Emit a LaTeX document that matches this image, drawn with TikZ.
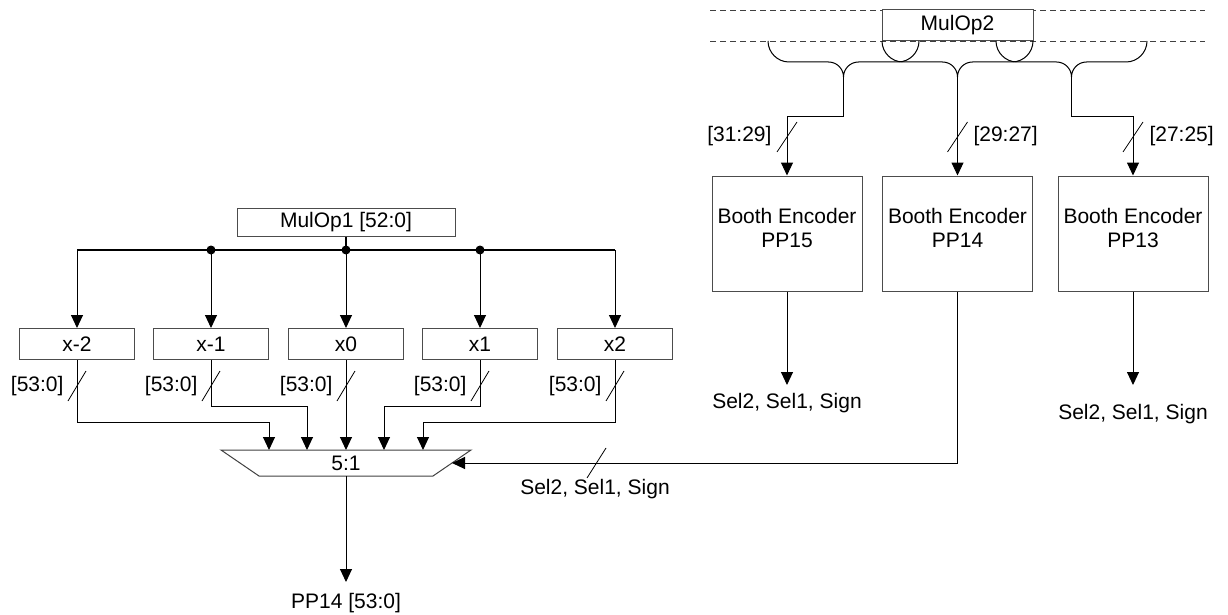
\documentclass[tikz,border=0pt]{standalone}
\usepackage{fontspec}
\setmainfont{Liberation Sans}
\usetikzlibrary{arrows.meta,calc}
\newcommand\mybrace[3]{% left x, tip x, right x
  \draw (#1,41) .. controls (#1,52.5) and ({#1+9.5},62) .. ({#1+21},62)
     -- ({#2-15},62) .. controls ({#2-6.7},62) and (#2,68.7) .. (#2,77)
     .. controls (#2,68.7) and ({#2+6.7},62) .. ({#2+15},62)
     -- ({#3-21},62) .. controls ({#3-9.5},62) and (#3,52.5) .. (#3,41);}
\begin{document}
\begin{tikzpicture}[x=1pt,y=-1pt,
  font=\fontsize{21}{24.5}\selectfont,
  line width=1pt,
  box/.style={draw=black!70,fill=white,line width=1pt,inner sep=0pt,align=center},
  arr/.style={-{Triangle[length=13pt,width=12pt]}},
  lbl/.style={inner sep=0pt,align=center},
  dashln/.style={draw=black!75,dash pattern=on 6pt off 4pt,line width=0.9pt},
  dot/.style={circle,fill=black,inner sep=0pt,minimum size=9pt}
]
\useasboundingbox (0,0) rectangle (1228,615);

% ---------- left part ----------
\node[box,minimum width=218pt,minimum height=28pt] (mulop1) at (346,222) {MulOp1 [52:0]};
\coordinate (b1) at (77,250);
\coordinate (b5) at (615,250);
\node[dot] (b2) at (211,250) {};
\node[dot] (b3) at (346,250) {};
\node[dot] (b4) at (480,250) {};
\draw[line width=1.3pt] (mulop1.south) -- (b3.center);
\draw[line width=1.2pt] (b1) -- (b5);

\foreach \n/\x/\t in {xm2/77/x-2, xm1/211/x-1, xz/346/x0, xp1/480/x1, xp2/615/x2}{
  \node[box,minimum width=115pt,minimum height=31pt] (\n) at (\x,344) {\t};
  \node[lbl,anchor=east] (l\n) at (\x-13,386) {[53:0]};
  \draw[line width=0.8pt] (\x-9,401) -- (\x+9,371);
}
\draw[arr] (b1) -- (xm2);
\draw[arr] (b2.center) -- (xm1);
\draw[arr] (b3.center) -- (xz);
\draw[arr] (b4.center) -- (xp1);
\draw[arr] (b5) -- (xp2);

% mux
\draw[draw=black!75] (221,450) -- (471,450) -- (433,476) -- (259,476) -- cycle;
\node[lbl] (mux) at (346,463) {5:1};
\coordinate (in1) at (269,450);
\coordinate (in2) at (307,450);
\coordinate (in3) at (346,450);
\coordinate (in4) at (384,450);
\coordinate (in5) at (423,450);
\coordinate (sel) at (452,463);
\coordinate (muxout) at (346,476);

\draw[arr] (xm2.south) |- (269,422) -- (in1);
\draw[arr] (xm1.south) |- (307,406) -- (in2);
\draw[arr] (xz.south) -- (in3);
\draw[arr] (xp1.south) |- (384,406) -- (in4);
\draw[arr] (xp2.south) |- (423,422) -- (in5);

\coordinate (pout) at (346,582);
\draw[arr] (muxout) -- (pout);
\node[lbl] (pp14out) at (346,603) {PP14 [53:0]};

% ---------- right part ----------
\draw[dashln] (710,10) -- (1205,10);
\draw[dashln] (710,41) -- (1205,41);
\node[box,minimum width=151pt,minimum height=31pt] (mulop2) at (957.5,25.5) {MulOp2};

% braces
\mybrace{768}{843.5}{919}
\mybrace{882}{957.5}{1033}
\mybrace{996}{1071.5}{1147}
\coordinate (t1) at (843.5,77);
\coordinate (t2) at (957.5,77);
\coordinate (t3) at (1071.5,77);

\node[box,minimum width=150pt,minimum height=115pt] (pp15) at (787,233.5) {};
\node[box,minimum width=150pt,minimum height=115pt] (pp14) at (957.5,233.5) {};
\node[box,minimum width=150pt,minimum height=115pt] (pp13) at (1133,233.5) {};
\node[lbl] (pp15t) at (787,228) {Booth Encoder\\PP15};
\node[lbl] (pp14t) at (957.5,228) {Booth Encoder\\PP14};
\node[lbl] (pp13t) at (1133,228) {Booth Encoder\\PP13};

\draw[arr] (t1) |- (787,117) -- (pp15.north);
\draw[arr] (t2) -- (pp14.north);
\draw[arr] (t3) |- (1133,117) -- (pp13.north);

\draw[line width=0.8pt] (777,152) -- (797,122);
\node[lbl,anchor=east] (r15) at (772,136) {[31:29]};
\draw[line width=0.8pt] (947.5,152) -- (967.5,122);
\node[lbl,anchor=west] (r14) at (973,136) {[29:27]};
\draw[line width=0.8pt] (1123,152) -- (1143,122);
\node[lbl,anchor=west] (r13) at (1149,136) {[27:25]};

\coordinate (e15) at (787,385);
\coordinate (e13) at (1133,385);
\draw[arr] (pp15.south) -- (e15);
\node[lbl] (s15) at (787,403) {Sel2, Sel1, Sign};
\draw[arr] (pp13.south) -- (e13);
\node[lbl] (s13) at (1133,414) {Sel2, Sel1, Sign};

\draw[arr] (pp14.south) |- (sel);
\draw[line width=0.8pt] (587,478) -- (606,448);
\node[lbl] (s14) at (595,489) {Sel2, Sel1, Sign};
\end{tikzpicture}
\end{document}
